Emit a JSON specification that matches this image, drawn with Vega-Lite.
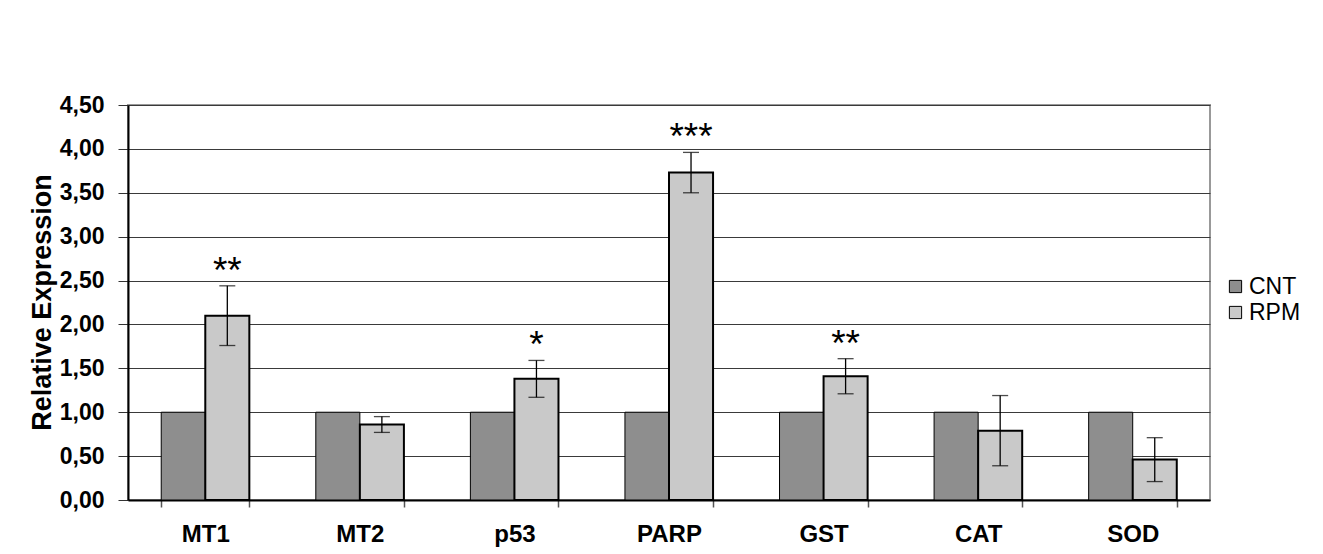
{
  "$schema": "https://vega.github.io/schema/vega-lite/v6.json",
  "autosize": {"type": "none"},
  "width": 1082,
  "height": 395,
  "padding": {"left": 128, "top": 105, "right": 113, "bottom": 54},
  "background": "white",
  "data": {
    "values": [
      {"gene": "MT1", "group": "CNT", "value": 1.0},
      {"gene": "MT1", "group": "RPM", "value": 2.1, "lo": 1.76, "hi": 2.44, "star": "**"},
      {"gene": "MT2", "group": "CNT", "value": 1.0},
      {"gene": "MT2", "group": "RPM", "value": 0.86, "lo": 0.77, "hi": 0.95},
      {"gene": "p53", "group": "CNT", "value": 1.0},
      {"gene": "p53", "group": "RPM", "value": 1.38, "lo": 1.17, "hi": 1.59, "star": "*"},
      {"gene": "PARP", "group": "CNT", "value": 1.0},
      {"gene": "PARP", "group": "RPM", "value": 3.73, "lo": 3.5, "hi": 3.96, "star": "***"},
      {"gene": "GST", "group": "CNT", "value": 1.0},
      {"gene": "GST", "group": "RPM", "value": 1.41, "lo": 1.21, "hi": 1.61, "star": "**"},
      {"gene": "CAT", "group": "CNT", "value": 1.0},
      {"gene": "CAT", "group": "RPM", "value": 0.79, "lo": 0.39, "hi": 1.19},
      {"gene": "SOD", "group": "CNT", "value": 1.0},
      {"gene": "SOD", "group": "RPM", "value": 0.46, "lo": 0.21, "hi": 0.71}
    ]
  },
  "encoding": {
    "x": {
      "field": "gene",
      "type": "nominal",
      "sort": ["MT1", "MT2", "p53", "PARP", "GST", "CAT", "SOD"],
      "scale": {"paddingInner": 0.43, "paddingOuter": 0.215},
      "axis": {
        "title": null,
        "labelAngle": 0,
        "labelFont": "Liberation Sans",
        "labelFontWeight": "bold",
        "labelFontSize": 24,
        "labelColor": "black",
        "labelPadding": 15,
        "tickBand": "extent",
        "tickSize": 7,
        "tickColor": "#555",
        "tickWidth": 1.5,
        "domainColor": "black",
        "domainWidth": 2,
        "grid": false
      }
    },
    "xOffset": {"field": "group", "type": "nominal", "sort": ["CNT", "RPM"]}
  },
  "layer": [
    {
      "mark": {"type": "bar", "stroke": "black"},
      "encoding": {
        "y": {
          "field": "value",
          "type": "quantitative",
          "scale": {"domain": [0, 4.5], "nice": false},
          "axis": {
            "title": "Relative Expression",
            "values": [0, 0.5, 1, 1.5, 2, 2.5, 3, 3.5, 4, 4.5],
            "format": ".2f",
            "labelFont": "Liberation Sans",
            "labelFontWeight": "bold",
            "labelFontSize": 23,
            "labelColor": "black",
            "labelPadding": 14,
            "tickSize": 10,
            "tickColor": "#333",
            "tickWidth": 1,
            "domainColor": "black",
            "domainWidth": 2,
            "grid": true,
            "gridColor": "#3a3a3a",
            "gridWidth": 1,
            "titleFont": "Liberation Sans",
            "titleFontWeight": "bold",
            "titleFontSize": 27,
            "titleColor": "black",
            "titleX": -78,
            "titleY": 197,
            "titleAngle": -90,
            "titleAlign": "center",
            "titleBaseline": "alphabetic"
          }
        },
        "color": {
          "field": "group",
          "type": "nominal",
          "sort": ["CNT", "RPM"],
          "scale": {"domain": ["CNT", "RPM"], "range": ["#8e8e8e", "#c9c9c9"]},
          "legend": {
            "title": null,
            "orient": "none",
            "legendX": 1096,
            "legendY": 170,
            "symbolType": "square",
            "symbolSize": 150,
            "symbolStrokeColor": "black",
            "symbolStrokeWidth": 1,
            "labelFont": "Liberation Sans",
            "labelFontSize": 23,
            "labelColor": "black",
            "labelOffset": 2,
            "rowPadding": 2
          }
        },
        "strokeWidth": {
          "condition": {"test": "datum.group === 'RPM'", "value": 2},
          "value": 1
        }
      }
    },
    {
      "transform": [{"filter": "isValid(datum.lo)"}],
      "mark": {"type": "rule", "color": "black", "strokeWidth": 1.3},
      "encoding": {
        "y": {"field": "lo", "type": "quantitative"},
        "y2": {"field": "hi"}
      }
    },
    {
      "transform": [{"filter": "isValid(datum.lo)"}],
      "mark": {"type": "tick", "color": "black", "size": 16, "thickness": 1.3, "orient": "horizontal"},
      "encoding": {"y": {"field": "lo", "type": "quantitative"}}
    },
    {
      "transform": [{"filter": "isValid(datum.hi)"}],
      "mark": {"type": "tick", "color": "black", "size": 16, "thickness": 1.3, "orient": "horizontal"},
      "encoding": {"y": {"field": "hi", "type": "quantitative"}}
    },
    {
      "transform": [{"filter": "isValid(datum.star)"}],
      "mark": {"type": "text", "font": "Liberation Sans", "fontSize": 37, "baseline": "alphabetic", "dy": -3, "color": "black"},
      "encoding": {
        "y": {"field": "hi", "type": "quantitative"},
        "text": {"field": "star"}
      }
    }
  ],
  "config": {
    "locale": {
      "number": {"decimal": ",", "thousands": ".", "grouping": [3], "currency": ["", " €"]}
    },
    "view": {"stroke": "#999", "strokeWidth": 2}
  }
}
